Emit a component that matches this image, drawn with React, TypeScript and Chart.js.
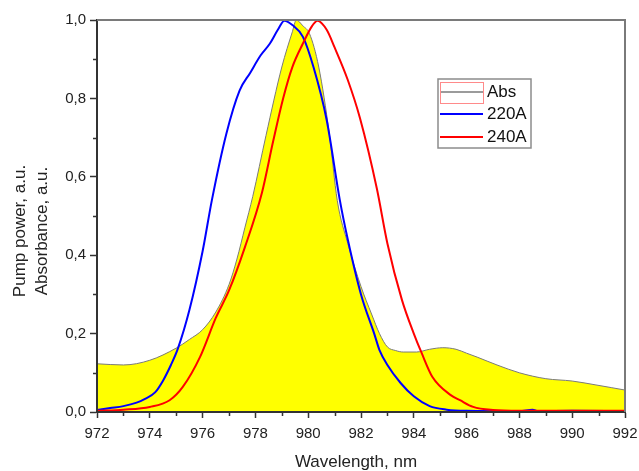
import React, { useEffect, useRef } from 'react';
import { Chart, registerables } from 'chart.js';

Chart.register(...registerables);

// Absorbance (yellow filled area)
const absWl = [972.0, 973.0, 974.0, 975.0, 975.5, 976.0, 976.5, 977.0, 977.3, 977.6, 977.9, 978.4, 979.0, 979.4, 979.55, 979.8, 980.05, 980.4, 980.8, 981.1, 981.5, 982.0, 982.4, 982.7, 983.0, 983.3, 983.6, 984.1, 984.6, 985.1, 985.6, 986.0, 986.4, 987.15, 988.0, 989.0, 990.0, 990.9, 991.5, 992.0];
const absVal = [0.123, 0.12, 0.132, 0.163, 0.185, 0.21, 0.255, 0.325, 0.39, 0.47, 0.55, 0.705, 0.88, 0.97, 1.0, 0.985, 0.965, 0.88, 0.71, 0.54, 0.43, 0.32, 0.25, 0.2, 0.166, 0.157, 0.153, 0.153, 0.16, 0.164, 0.16, 0.15, 0.14, 0.12, 0.1, 0.085, 0.079, 0.069, 0.062, 0.056];

// Pump power at 220A
const p220Wl = [972.0, 972.5, 973.0, 973.5, 973.8, 974.2, 974.5, 974.8, 975.07, 975.5, 976.0, 976.35, 976.9, 977.4, 977.8, 978.2, 978.55, 978.85, 979.1, 979.4, 979.8, 980.2, 980.7, 981.2, 981.5, 982.0, 982.5, 982.7, 983.0, 983.5, 984.0, 984.6, 985.25, 986.0, 988.0, 988.5, 988.7, 990.0, 992.0];
const p220Val = [0.005, 0.01, 0.015, 0.024, 0.033, 0.05, 0.08, 0.12, 0.163, 0.26, 0.41, 0.54, 0.71, 0.82, 0.865, 0.91, 0.94, 0.975, 0.998, 0.987, 0.957, 0.88, 0.745, 0.54, 0.44, 0.3, 0.2, 0.158, 0.12, 0.074, 0.04, 0.015, 0.006, 0.003, 0.002, 0.006, 0.002, 0.003, 0.002];

// Pump power at 240A
const p240Wl = [972.0, 973.0, 974.0, 974.75, 975.25, 975.9, 976.5, 977.0, 977.6, 978.25, 978.67, 979.05, 979.4, 979.8, 980.15, 980.35, 980.7, 981.0, 981.5, 981.96, 982.6, 983.0, 983.55, 984.0, 984.3, 984.7, 985.4, 985.75, 986.25, 987.0, 988.0, 992.0];
const p240Val = [0.003, 0.006, 0.013, 0.03, 0.064, 0.14, 0.24, 0.31, 0.42, 0.56, 0.69, 0.8, 0.88, 0.94, 0.985, 0.998, 0.975, 0.93, 0.847, 0.75, 0.57, 0.43, 0.286, 0.2, 0.15, 0.09, 0.043, 0.03, 0.013, 0.005, 0.003, 0.003];

const seriesLabels = ['Abs', '220A', '240A'];
const xMinorTicks = [973, 975, 977, 979, 981, 983, 985, 987, 989, 991];
const yMinorTicks = [0.1, 0.3, 0.5, 0.7, 0.9];
const xTitle = 'Wavelength, nm';
const yTitleLines = ['Pump power, a.u.', 'Absorbance, a.u.'];

const FONT = '"Liberation Sans", Arial, sans-serif';

const toPoints = (xs: number[], ys: number[]) => xs.map((x, i) => ({ x, y: ys[i] }));

const decorPlugin = {
  id: 'decor',
  afterDraw(chart: any) {
    const { ctx, chartArea, scales } = chart;
    const { left, right, top, bottom } = chartArea;
    const xs = scales.x;
    const ys = scales.y;
    ctx.save();
    // top and right frame
    ctx.strokeStyle = '#7a7a7a';
    ctx.lineWidth = 2;
    ctx.beginPath();
    ctx.moveTo(left, top);
    ctx.lineTo(right, top);
    ctx.lineTo(right, bottom);
    ctx.stroke();

    // minor ticks
    ctx.strokeStyle = '#333';
    ctx.lineWidth = 1.5;
    ctx.beginPath();
    xMinorTicks.forEach((v) => {
      const px = Math.round(xs.getPixelForValue(v)) + 0.5;
      ctx.moveTo(px, bottom);
      ctx.lineTo(px, bottom + 4);
    });
    yMinorTicks.forEach((v) => {
      const py = Math.round(ys.getPixelForValue(v)) + 0.5;
      ctx.moveTo(left, py);
      ctx.lineTo(left - 4, py);
    });
    ctx.stroke();

    // axis titles
    ctx.fillStyle = '#222';
    ctx.font = `17px ${FONT}`;
    ctx.textAlign = 'center';
    ctx.textBaseline = 'middle';
    ctx.fillText(xTitle, 356, 462);
    ctx.save();
    ctx.translate(20, 231);
    ctx.rotate(-Math.PI / 2);
    ctx.fillText(yTitleLines[0], 0, 0);
    ctx.restore();
    ctx.save();
    ctx.translate(42, 231);
    ctx.rotate(-Math.PI / 2);
    ctx.fillText(yTitleLines[1], 0, 0);
    ctx.restore();

    // legend
    const ds = chart.data.datasets;
    const bx = 438, by = 79, bw = 93, bh = 69;
    ctx.fillStyle = '#fff';
    ctx.fillRect(bx, by, bw, bh);
    ctx.strokeStyle = '#8c8c8c';
    ctx.lineWidth = 1.5;
    ctx.strokeRect(bx, by, bw, bh);
    const rows = [92, 114, 137];
    // Abs swatch
    ctx.strokeStyle = '#ff8a8a';
    ctx.lineWidth = 1;
    ctx.strokeRect(440.5, 82.5, 43, 21);
    ctx.strokeStyle = ds[0].borderColor;
    ctx.lineWidth = 1.5;
    ctx.beginPath();
    ctx.moveTo(441, rows[0]);
    ctx.lineTo(483, rows[0]);
    ctx.stroke();
    for (let i = 1; i < 3; i++) {
      ctx.strokeStyle = ds[i].borderColor;
      ctx.lineWidth = 2;
      ctx.beginPath();
      ctx.moveTo(440, rows[i]);
      ctx.lineTo(483, rows[i]);
      ctx.stroke();
    }
    ctx.fillStyle = '#111';
    ctx.font = `17px ${FONT}`;
    ctx.textAlign = 'left';
    ctx.textBaseline = 'middle';
    for (let i = 0; i < 3; i++) {
      ctx.fillText(ds[i].label, 487, rows[i]);
    }
    ctx.restore();
  },
};

export default function App() {
  const canvasRef = useRef<HTMLCanvasElement | null>(null);

  useEffect(() => {
    if (!canvasRef.current) return;
    const chart = new Chart(canvasRef.current, {
      type: 'line',
      data: {
        datasets: [
          {
            label: seriesLabels[0],
            data: toPoints(absWl, absVal),
            borderColor: '#7a7a7a',
            borderWidth: 1,
            backgroundColor: '#ffff00',
            fill: 'origin',
            pointRadius: 0,
            cubicInterpolationMode: 'monotone',
            order: 3,
          },
          {
            label: seriesLabels[1],
            data: toPoints(p220Wl, p220Val),
            borderColor: '#0000ff',
            borderWidth: 2,
            fill: false,
            pointRadius: 0,
            cubicInterpolationMode: 'monotone',
            order: 2,
          },
          {
            label: seriesLabels[2],
            data: toPoints(p240Wl, p240Val),
            borderColor: '#ff0000',
            borderWidth: 2,
            fill: false,
            pointRadius: 0,
            cubicInterpolationMode: 'monotone',
            order: 1,
          },
        ],
      },
      options: {
        responsive: false,
        animation: false,
        events: [],
        layout: { padding: { left: 0, top: 20, right: 14, bottom: 0 } },
        plugins: {
          legend: { display: false },
          tooltip: { enabled: false },
          title: { display: false },
        },
        scales: {
          x: {
            type: 'linear',
            min: 972,
            max: 992,
            afterFit: (s: any) => {
              s.height = 59;
              s.paddingRight = 0;
              s.paddingLeft = 0;
            },
            ticks: {
              stepSize: 2,
              color: '#222',
              font: { family: FONT, size: 15 },
              padding: 7,
              maxRotation: 0,
              callback: (v: any) => String(v),
            },
            grid: {
              drawOnChartArea: false,
              drawTicks: true,
              tickLength: 6,
              tickColor: '#333',
              tickWidth: 1.5,
              z: 1,
            },
            border: { display: true, color: '#333', width: 2, z: 1 },
          },
          y: {
            type: 'linear',
            min: 0,
            max: 1,
            afterFit: (s: any) => {
              s.width = 97;
              s.paddingTop = 0;
              s.paddingBottom = 0;
            },
            ticks: {
              stepSize: 0.2,
              color: '#222',
              font: { family: FONT, size: 15 },
              padding: 4,
              callback: (v: any) => Number(v).toFixed(1).replace('.', ','),
            },
            grid: {
              drawOnChartArea: false,
              drawTicks: true,
              tickLength: 7,
              tickColor: '#333',
              tickWidth: 1.5,
              z: 1,
            },
            border: { display: true, color: '#333', width: 2, z: 1 },
          },
        },
      },
      plugins: [decorPlugin],
    } as any);
    return () => chart.destroy();
  }, []);

  return (
    <div style={{ position: 'fixed', left: 0, top: 0, width: 639, height: 471, background: '#fff' }}>
      <canvas ref={canvasRef} width={639} height={471} style={{ display: 'block' }} />
    </div>
  );
}
